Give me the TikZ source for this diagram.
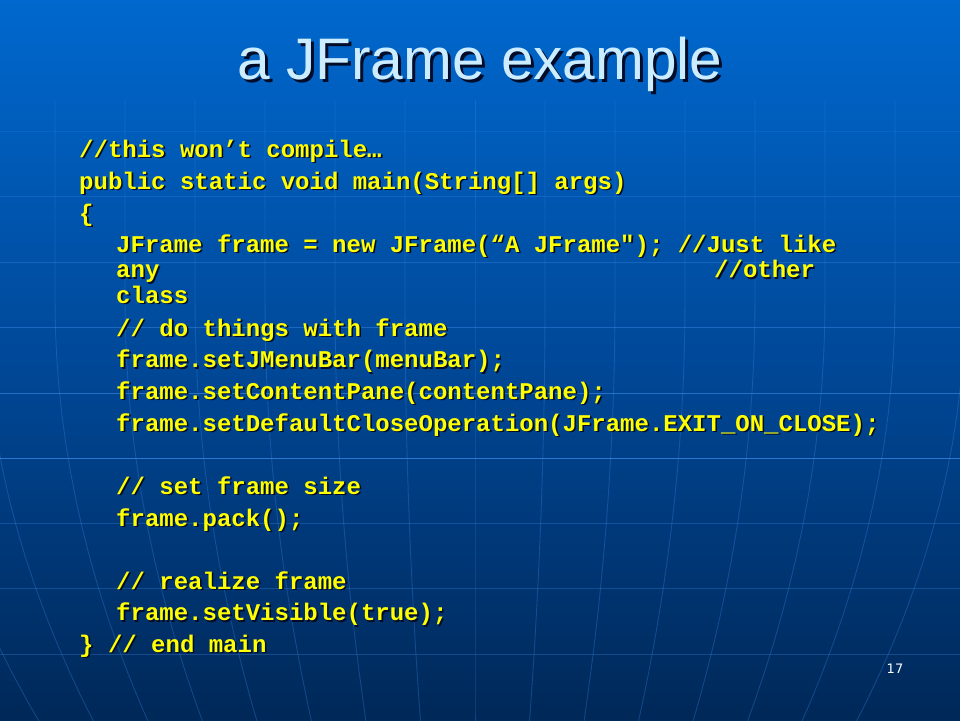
\documentclass[tikz,border=0pt]{standalone}
\usepackage{fontspec}
\setmainfont{Liberation Sans}
\setmonofont{Liberation Mono}
\newfontfamily\numfont{DejaVu Sans}
\usepackage{xcolor}
\definecolor{slidetop}{RGB}{0,104,206}
\definecolor{slidemid}{RGB}{0,72,152}
\definecolor{slidebottom}{RGB}{0,40,88}
\definecolor{gridblue}{RGB}{60,140,235}
\definecolor{codeyellow}{RGB}{255,255,0}
\definecolor{titleblue}{RGB}{204,236,255}
\definecolor{shadowcol}{RGB}{0,12,40}
\newcommand{\shadowtext}[2] % offset, text
{%
	\makebox[0pt][l]{\hspace{#1}\raisebox{-#1}{\color{shadowcol}#2}}#2%
}
\newcommand{\codeline}[4] % name, x, baseline y, text
{
	\node[code] (#1) at (#2,#3) {\shadowtext{1.6pt}{#4}};
}
\newcommand{\meridian}[2] % x at top, opacity
{
	% straight upper part, then bending towards x=475
	\draw[gridline, opacity=#2] (#1,100) -- (#1,300)
		-- plot[variable=\t, domain=300:730, samples=16]
		({475+(#1-475)*(1-0.22*((\t-300)/420)^2)}, \t);
}
\tikzset{
	code/.style={anchor=base west, inner sep=0pt, text=codeyellow,
		font=\fontsize{24}{24}\selectfont\ttfamily\bfseries},
	title/.style={anchor=base, inner sep=0pt, text=titleblue,
		font=\fontsize{58.6}{60}\selectfont},
	pagenum/.style={anchor=base, inner sep=0pt, text=white!90!titleblue,
		font=\fontsize{13}{13}\selectfont\numfont},
	gridline/.style={draw=gridblue, line width=0.9pt}
}
\begin{document}
\begin{tikzpicture}[x=1pt, y=-1pt]
	% 960 x 720 slide
	\useasboundingbox (0,0) rectangle (960,720);
	\shade[top color=slidetop, bottom color=slidebottom, middle color=slidemid]
		(0,0) rectangle (960,720);
	
	% grid
	\begin{scope}
	\clip (0,0) rectangle (960,720);
	\draw[gridline, opacity=0.18] (0,131) -- (960,131);
	\draw[gridline, opacity=0.25] (0,196) -- (960,196);
	\draw[gridline, opacity=0.35] (0,262) -- (960,262);
	\draw[gridline, opacity=0.45] (0,327) -- (960,327);
	\draw[gridline, opacity=0.6] (0,393) -- (960,393);
	\draw[gridline, opacity=0.75] (0,458) -- (960,458);
	\draw[gridline, opacity=0.3] (0,523) -- (960,523);
	\draw[gridline, opacity=0.3] (0,588) -- (960,588);
	\draw[gridline, opacity=0.3] (0,654) -- (960,654);
	\meridian{-85}{0.3};
	\meridian{-15}{0.3};
	\meridian{55}{0.3};
	\meridian{125}{0.3};
	\meridian{195}{0.3};
	\meridian{265}{0.3};
	\meridian{335}{0.3};
	\meridian{405}{0.3};
	\meridian{475}{0.3};
	\meridian{545}{0.3};
	\meridian{615}{0.3};
	\meridian{685}{0.3};
	\meridian{755}{0.3};
	\meridian{825}{0.3};
	\meridian{895}{0.3};
	\meridian{965}{0.3};
	\end{scope}
	
	% title
	\node[title] (title) at (480,79) {\shadowtext{3pt}{a JFrame example}};
	
	% code
	\codeline{comment}{79}{157}{//this won’t compile…};
	\codeline{mainsig}{79}{189}{public static void main(String[] args)};
	\codeline{open}{79}{221}{\{};
	\codeline{newframe}{116}{252}{JFrame frame = new JFrame(“A JFrame"); //Just like};
	\codeline{any}{116}{277.5}{any};
	\codeline{other}{714}{277.5}{//other};
	\codeline{class}{116}{303}{class};
	\codeline{dothings}{116}{336}{// do things with frame};
	\codeline{menubar}{116}{367.5}{frame.setJMenuBar(menuBar);};
	\codeline{content}{116}{399}{frame.setContentPane(contentPane);};
	\codeline{closeop}{116}{431}{frame.setDefaultCloseOperation(JFrame.EXIT\_ON\_CLOSE);};
	\codeline{sizecom}{116}{494}{// set frame size};
	\codeline{pack}{116}{526}{frame.pack();};
	\codeline{realize}{116}{589}{// realize frame};
	\codeline{visible}{116}{620.5}{frame.setVisible(true);};
	\codeline{endmain}{79}{652}{\} // end main};
	
	% page number
	\node[pagenum] (page) at (895,673) {17};
\end{tikzpicture}
\end{document}
